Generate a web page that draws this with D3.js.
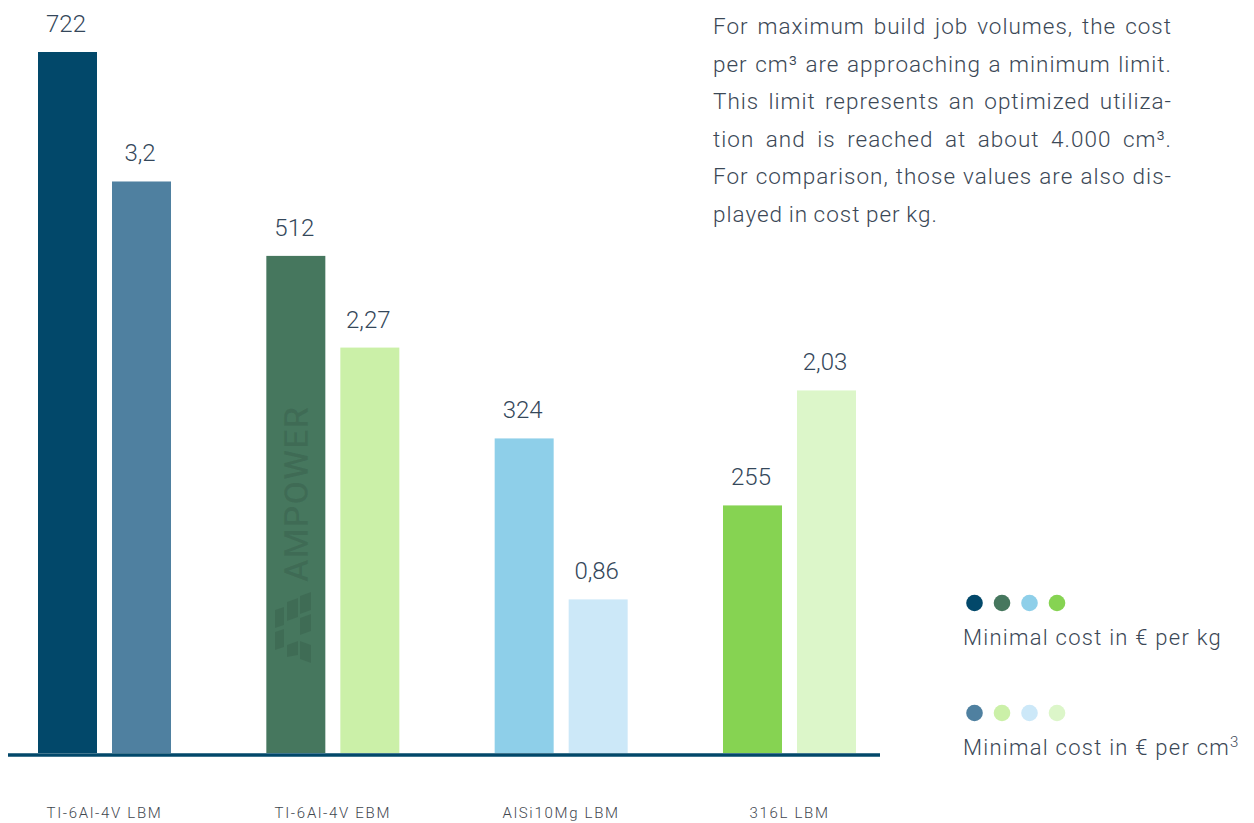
<!DOCTYPE html>
<html>
<head>
<meta charset="utf-8">
<script src="https://cdn.jsdelivr.net/npm/d3@7"></script>
<style>
  html, body { margin: 0; padding: 0; background: #ffffff; }
  svg { display: block; font-family: Roboto, "Noto Sans", sans-serif; }
</style>
</head>
<body>
<svg id="chart" width="1254" height="823"></svg>
<script>
// Materials / processes shown along the axis
const categories = ["TI-6Al-4V LBM", "TI-6Al-4V EBM", "AlSi10Mg LBM", "316L LBM"];
// Minimal cost in € per kg
const costPerKg = [722, 512, 324, 255];
// Minimal cost in € per cm³
const costPerCm3 = [3.2, 2.27, 0.86, 2.03];
// Series keys inside each group
const seriesKeys = ["kg", "cm3"];
// Bar colours, one per material for each series
const colorsKg = ["#02486a", "#46775e", "#8ecfe9", "#86d352"];
const colorsCm3 = ["#4f80a0", "#cbf0a8", "#cce8f8", "#dcf6c9"];
// Legend captions
const legendLabels = ["Minimal cost in € per kg", "Minimal cost in € per cm"];
// Explanatory paragraph, broken into its printed lines
const noteLines = [
  "For maximum build job volumes, the cost",
  "per cm³ are approaching a minimum limit.",
  "This limit represents an optimized utiliza-",
  "tion and is reached at about 4.000 cm³.",
  "For comparison, those values are also dis-",
  "played in cost per kg."
];

const svg = d3.select("#chart");
const baseY = 753;

const x = d3.scaleBand().domain(categories).range([38, 856]).paddingInner(0.4175).paddingOuter(0);
const xs = d3.scaleBand().domain(seriesKeys).range([0, x.bandwidth()]).paddingInner(15 / 74);
const yKg = d3.scaleLinear().domain([0, 722]).range([baseY, 52]);
const yCm3 = d3.scaleLinear().domain([0, 3.925]).range([baseY, 52]);

const fmt = d3.formatLocale({ decimal: ",", thousands: ".", grouping: [3], currency: ["", " €"] }).format(".3~r");

const rows = [];
categories.forEach((c, i) => {
  rows.push({ cat: c, key: "kg", value: costPerKg[i], color: colorsKg[i], y: yKg });
  rows.push({ cat: c, key: "cm3", value: costPerCm3[i], color: colorsCm3[i], y: yCm3 });
});

const bars = svg.append("g").attr("class", "bars");
bars.selectAll("rect").data(rows).join("rect")
  .attr("x", d => x(d.cat) + xs(d.key))
  .attr("y", d => d.y(d.value))
  .attr("width", xs.bandwidth())
  .attr("height", d => baseY - d.y(d.value))
  .attr("fill", d => d.color);

// Watermark inside the second material's per-kg bar
const wmCat = categories[1];
const wmX = x(wmCat) + xs("kg") + xs.bandwidth() / 2;
const wm = svg.append("g").attr("class", "watermark").attr("fill", "#000").attr("fill-opacity", 0.09);
wm.append("text")
  .attr("transform", `translate(${wmX + 12},582) rotate(-90)`)
  .attr("font-size", 34)
  .attr("font-weight", 500)
  .attr("letter-spacing", 1.2)
  .text("AMPOWER");
const logoShapes = [
  [[275, 610], [284, 607], [284, 625], [275, 628]],
  [[275, 632], [284, 629], [284, 647], [275, 650]],
  [[287, 602], [298, 598], [298, 617], [287, 621]],
  [[300, 596], [311, 592], [311, 610], [300, 614]],
  [[300, 618], [311, 614], [311, 631], [300, 635]],
  [[287, 645], [298, 641], [298, 655], [287, 657]],
  [[300, 641], [311, 645], [311, 663], [300, 659]]
];
wm.selectAll("path").data(logoShapes).join("path")
  .attr("d", d => d3.line()(d) + "Z");

// Value labels above each bar
svg.append("g").attr("class", "values")
  .selectAll("text").data(rows).join("text")
  .attr("x", d => x(d.cat) + xs(d.key) + xs.bandwidth() / 2 - 1.5)
  .attr("y", d => d.y(d.value) - 20)
  .attr("text-anchor", "middle")
  .attr("font-size", 24)
  .attr("font-weight", 300)
  .attr("fill", "#34475a")
  .text(d => fmt(d.value));

// Category axis
const axis = svg.append("g").attr("class", "x-axis")
  .attr("transform", `translate(0,${baseY})`)
  .call(d3.axisBottom(x).tickSize(0).tickPadding(54));
axis.select(".domain").remove();
axis.selectAll(".tick text")
  .attr("font-family", "Roboto, sans-serif")
  .attr("font-size", 15)
  .attr("font-weight", 300)
  .attr("letter-spacing", 1.7)
  .attr("fill", "#3f474f");
svg.append("line")
  .attr("x1", 8).attr("x2", 880)
  .attr("y1", baseY + 2).attr("y2", baseY + 2)
  .attr("stroke", "#02486a").attr("stroke-width", 3.5);

// Legend
const legend = svg.append("g").attr("class", "legend");
[colorsKg, colorsCm3].forEach((cols, r) => {
  const cy = 603 + r * 110;
  legend.append("g").selectAll("circle").data(cols).join("circle")
    .attr("cx", (d, i) => 974.5 + i * 27.5)
    .attr("cy", cy)
    .attr("r", 8.3)
    .attr("fill", d => d);
  const t = legend.append("text")
    .attr("x", 963).attr("y", cy + 42)
    .attr("font-size", 22)
    .attr("font-weight", 300)
    .attr("letter-spacing", 1.25)
    .attr("fill", "#3b4856")
    .text(legendLabels[r]);
  if (r === 1) {
    t.append("tspan").attr("font-size", 15).attr("dy", -8).text("3");
  }
});

// Justified note paragraph
const noteSpacing = 1.0;
const note = svg.append("g").attr("class", "note")
  .attr("font-size", 22.5)
  .attr("font-weight", 300)
  .attr("letter-spacing", noteSpacing)
  .attr("fill", "#3b4856");
const noteLeft = 713, noteRight = 1171;
noteLines.forEach((line, li) => {
  const yy = 34 + li * 37.6;
  const words = line.split(" ");
  const nodes = words.map(w => note.append("text").attr("y", yy).text(w));
  // trailing letter spacing of each word is excluded from its width
  const widths = nodes.map(n => n.node().getComputedTextLength() - noteSpacing);
  const total = d3.sum(widths);
  const last = li === noteLines.length - 1;
  const gap = last ? 6.5 : (noteRight - noteLeft - total) / (words.length - 1);
  let cx = noteLeft;
  nodes.forEach((n, i) => {
    n.attr("x", cx);
    cx += widths[i] + gap;
  });
});
</script>
</body>
</html>
